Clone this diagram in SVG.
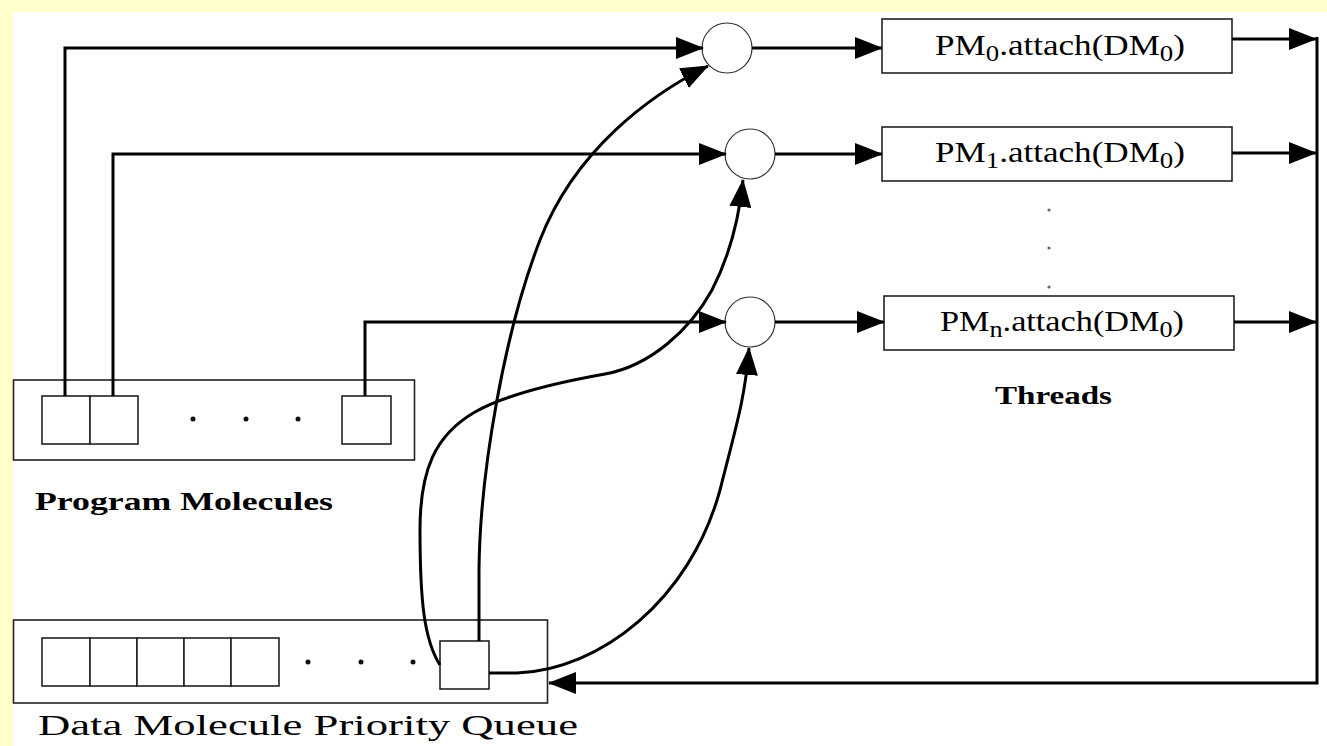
<svg xmlns="http://www.w3.org/2000/svg" width="1327" height="746" viewBox="0 0 1327 746">
  <defs>
    <marker id="arrow" markerUnits="userSpaceOnUse" markerWidth="28" markerHeight="22" viewBox="0 0 28 22" refX="27" refY="11" orient="auto">
      <path d="M0,0 L28,11 L0,22 z" fill="#000"/>
    </marker>
    <style>
      .box { fill: #fff; stroke: #222; stroke-width: 1.6; }
      .cell { fill: #fff; stroke: #222; stroke-width: 1.6; }
      .join { fill: #fff; stroke: #333; stroke-width: 1.2; }
      .wire { fill: none; stroke: #000; stroke-width: 3; }
      .arr { marker-end: url(#arrow); }
      .dot { fill: #111; }
      .vdot { fill: #666; }
      .label { font-family: "Liberation Serif", "Times New Roman", serif; fill: #000; }
      .title { font-family: "Liberation Serif", "Times New Roman", serif; fill: #000; font-weight: bold; }
    </style>
  </defs>

  <!-- page -->
  <rect x="0" y="0" width="1327" height="746" fill="#ffffcc"/>
  <rect x="13" y="12" width="1314" height="734" fill="#fff"/>

  <!-- program molecules -->
  <g id="program-molecules">
    <rect class="box" x="13.5" y="380" width="401" height="80"/>
    <rect class="cell" x="42" y="396" width="48" height="48"/>
    <rect class="cell" x="90" y="396" width="48" height="48"/>
    <rect class="cell" x="342" y="396" width="49" height="48"/>
    <circle class="dot" cx="193" cy="419" r="2.5"/>
    <circle class="dot" cx="246" cy="419" r="2.5"/>
    <circle class="dot" cx="298" cy="419" r="2.5"/>
    <text class="title" x="35" y="510" font-size="26" textLength="298" lengthAdjust="spacingAndGlyphs">Program Molecules</text>
  </g>

  <!-- data molecule priority queue -->
  <g id="data-queue">
    <rect class="box" x="13.5" y="620" width="534" height="83"/>
    <rect class="cell" x="42" y="638" width="48" height="48"/>
    <rect class="cell" x="90" y="638" width="47" height="48"/>
    <rect class="cell" x="137" y="638" width="47" height="48"/>
    <rect class="cell" x="184" y="638" width="47" height="48"/>
    <rect class="cell" x="231" y="638" width="48" height="48"/>
    <circle class="dot" cx="308" cy="662" r="2.5"/>
    <circle class="dot" cx="361" cy="662" r="2.5"/>
    <circle class="dot" cx="413" cy="662" r="2.5"/>
    <rect class="cell" x="440" y="641" width="49" height="48"/>
    <text class="label" x="38" y="735" font-size="29" textLength="540" lengthAdjust="spacingAndGlyphs">Data Molecule Priority Queue</text>
  </g>

  <!-- join points -->
  <g id="join-0"><circle class="join" cx="727" cy="48" r="25"/></g>
  <g id="join-1"><circle class="join" cx="750" cy="154" r="25"/></g>
  <g id="join-n"><circle class="join" cx="750" cy="322" r="25"/></g>

  <!-- threads -->
  <g id="thread-0">
    <rect class="box" x="882" y="19" width="350" height="54"/>
    <text class="label" x="935" y="55" font-size="30" textLength="250" lengthAdjust="spacingAndGlyphs">PM<tspan font-size="23" dy="6">0</tspan><tspan dy="-6">.attach(DM</tspan><tspan font-size="23" dy="6">0</tspan><tspan dy="-6">)</tspan></text>
  </g>
  <g id="thread-1">
    <rect class="box" x="882" y="127" width="350" height="54"/>
    <text class="label" x="935" y="162" font-size="30" textLength="250" lengthAdjust="spacingAndGlyphs">PM<tspan font-size="23" dy="6">1</tspan><tspan dy="-6">.attach(DM</tspan><tspan font-size="23" dy="6">0</tspan><tspan dy="-6">)</tspan></text>
  </g>
  <g id="thread-ellipsis">
    <circle class="vdot" cx="1049" cy="210" r="1.6"/>
    <circle class="vdot" cx="1049" cy="248" r="1.6"/>
    <circle class="vdot" cx="1049" cy="287" r="1.6"/>
  </g>
  <g id="thread-n">
    <rect class="box" x="884" y="296" width="350" height="54"/>
    <text class="label" x="940" y="331" font-size="30" textLength="244" lengthAdjust="spacingAndGlyphs">PM<tspan font-size="23" dy="6">n</tspan><tspan dy="-6">.attach(DM</tspan><tspan font-size="23" dy="6">0</tspan><tspan dy="-6">)</tspan></text>
  </g>
  <g id="threads-caption">
    <text class="title" x="995" y="404" font-size="26" textLength="117" lengthAdjust="spacingAndGlyphs">Threads</text>
  </g>

  <!-- connectors, drawn over the containers -->
  <g id="connectors">
    <!-- program molecule slots to join points -->
    <path class="wire arr" d="M65,396 V48 H703"/>
    <path class="wire arr" d="M113,396 V154 H726"/>
    <path class="wire arr" d="M365,396 V322 H726"/>
    <!-- join points to threads -->
    <path class="wire arr" d="M752,48 H882"/>
    <path class="wire arr" d="M775,154 H882"/>
    <path class="wire arr" d="M775,322 H884"/>
    <!-- threads to the return bus -->
    <path class="wire arr" d="M1232,39 H1316"/>
    <path class="wire arr" d="M1232,153 H1316"/>
    <path class="wire arr" d="M1234,322 H1316"/>
    <path class="wire arr" d="M1317,37 V683 H549"/>
    <!-- head of the data queue to each join point -->
    <path class="wire arr" d="M479,641 L479,570 C480,470 505,330 540,240 C575,150 650,95 708,66"/>
    <path class="wire arr" d="M440,665 C424,640 420,600 420,530 C420,470 435,435 475,412 C505,395 560,382 605,374 C650,366 690,330 712,290 C730,255 739,220 743,180"/>
    <path class="wire arr" d="M489,673 L517,673 C600,670 690,600 720,490 C735,430 745,400 749,348"/>
  </g>
</svg>
